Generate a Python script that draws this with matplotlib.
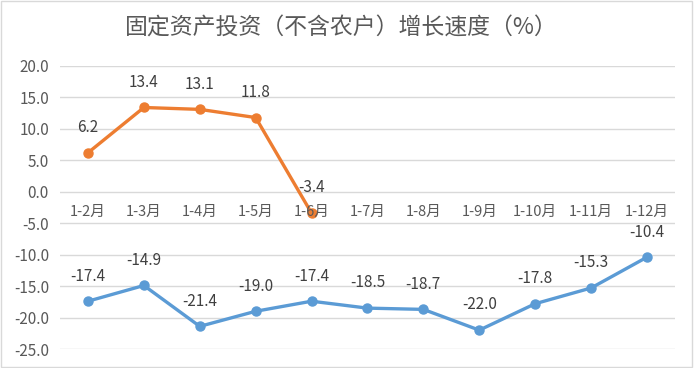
import matplotlib
matplotlib.use("Agg")
import matplotlib.pyplot as plt
from matplotlib.patches import Rectangle

plt.rcParams["font.family"] = ["Noto Sans CJK SC", "DejaVu Sans"]

# data
months = ["1-2月", "1-3月", "1-4月", "1-5月", "1-6月", "1-7月",
          "1-8月", "1-9月", "1-10月", "1-11月", "1-12月"]
orange_vals = [6.2, 13.4, 13.1, 11.8, -3.4]
blue_vals = [-17.4, -14.9, -21.4, -19.0, -17.4, -18.5, -18.7, -22.0, -17.8, -15.3, -10.4]
yticks = [20, 15, 10, 5, 0, -5, -10, -15, -20, -25]

text_col = "#595959"
label_col = "#404040"

fig = plt.figure(figsize=(6.94, 3.68), dpi=100)
ax = fig.add_axes([0.0865, 0.0516, 0.886, 0.7691])

# outer border of the chart area
fig.patches.append(Rectangle((0.002, 0.004), 0.995, 0.992, transform=fig.transFigure,
                             fill=False, edgecolor="#d9d9d9", linewidth=1))

for y in yticks:
    ax.axhline(y, color="#d9d9d9", linewidth=1, zorder=0)

ax.plot(range(len(orange_vals)), orange_vals, color="#ED7D31", linewidth=2.4,
        marker="o", markersize=6.5, zorder=3)
ax.plot(range(len(blue_vals)), blue_vals, color="#5B9BD5", linewidth=2.4,
        marker="o", markersize=6.5, zorder=3)

for i, v in enumerate(orange_vals):
    ax.annotate(f"{v:.1f}", (i, v), xytext=(0, 12), textcoords="offset points",
                ha="center", va="bottom", fontsize=11, color=label_col)
for i, v in enumerate(blue_vals):
    ax.annotate(f"{v:.1f}", (i, v), xytext=(0, 12), textcoords="offset points",
                ha="center", va="bottom", fontsize=11, color=label_col)

# category labels sit just under the zero line
for i, m in enumerate(months):
    ax.annotate(m, (i, 0), xytext=(0, -14.5), textcoords="offset points",
                ha="center", va="center", fontsize=10.5, color=text_col)

ax.set_xlim(-0.5, len(months) - 0.5)
ax.set_ylim(-25, 20)
ax.set_yticks(yticks)
ax.set_yticklabels([f"{y:.1f}" for y in yticks], fontsize=11, color=text_col)
ax.set_xticks([])
ax.tick_params(axis="y", length=0, pad=8)
for s in ax.spines.values():
    s.set_visible(False)

fig.text(0.492, 0.924, "固定资产投资（不含农户）增长速度（%）", ha="center", va="center",
         fontsize=16.5, color=text_col)

fig.savefig("out.png", dpi=100)
